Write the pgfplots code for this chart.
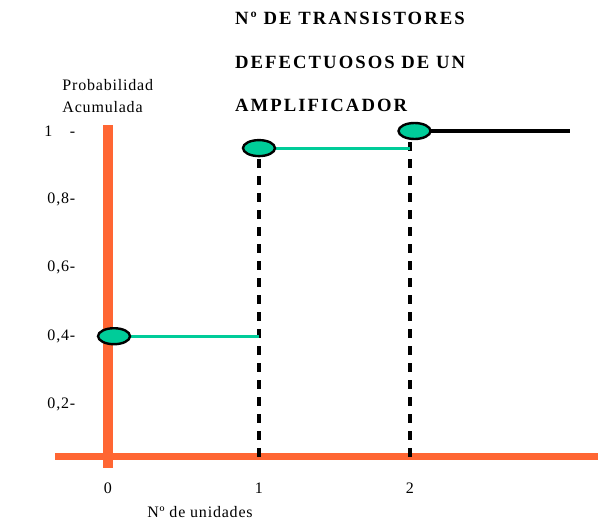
\documentclass[border=0pt]{standalone}
\usepackage{fontspec}
\setmainfont{Liberation Serif}
\newfontfamily\spaced[LetterSpace=5]{Liberation Serif}
\newfontfamily\titlefont[LetterSpace=11]{Liberation Serif}
\usepackage{pgfplots}
\pgfplotsset{compat=1.18}
\definecolor{naranja}{HTML}{FF6633}
\definecolor{verde}{HTML}{00CC99}

\begin{document}
\begin{tikzpicture}
\useasboundingbox (-60.6pt,-39.75pt) rectangle (395.4pt,354.75pt);
\begin{axis}[
    at={(0,0)}, anchor=south west,
    width=387.9pt, height=282.15pt, scale only axis,
    xmin=-0.18, xmax=3.245, ymin=0, ymax=1.1,
    axis line style={draw=none},
    tick style={draw=none},
    clip=false,
    xtick={0,1,2}, xticklabels={0,1,2},
    ytick={0.2,0.4,0.6,0.8,1},
    yticklabels={{0,2-},{0,4-},{0,6-},{0,8-},{1\hspace{1.1em}-}},
    ticklabel style={font=\spaced\fontsize{12}{14}\selectfont},
    yticklabel style={inner sep=0pt, xshift=-4pt},
    xticklabel style={inner sep=0pt, yshift=-7pt},
    xlabel={Nº de unidades},
    xlabel style={at={(rel axis cs:0.2305,-0.1037)}, anchor=center,
        font=\spaced\fontsize{12}{14}\selectfont},
    ylabel={Probabilidad\\Acumulada},
    ylabel style={rotate=-90, at={(rel axis cs:-0.036,1.047)}, anchor=north west,
        align=left, inner sep=0pt, font=\spaced\fontsize{12}{16.5}\selectfont},
    title={Nº DE TRANSISTORES\\DEFECTUOSOS DE UN\\AMPLIFICADOR},
    title style={at={(rel axis cs:0.298,1.2041)}, anchor=north west, align=left,
        inner sep=0pt, font=\titlefont\bfseries\fontsize{14}{32.6}\selectfont},
]
% ejes naranjas
\addplot[naranja, line width=7.5pt] coordinates {(0,0.015) (0,1.018)};
\addplot[naranja, line width=5.25pt] coordinates {(-0.351,0.047) (3.245,0.047)};
% lineas discontinuas
\addplot[black, line width=3pt, dash pattern=on 6.75pt off 6pt] coordinates {(1,0.047) (1,0.95)};
\addplot[black, line width=3pt, dash pattern=on 6.75pt off 6pt] coordinates {(2,0.047) (2,1)};
% escalones
\addplot[verde, line width=2.25pt] coordinates {(0,0.4) (1,0.4)};
\addplot[verde, line width=2.25pt] coordinates {(1,0.95) (2,0.95)};
\addplot[black, line width=2.6pt] coordinates {(2,1) (3.06,1)};
% puntos
\addplot[only marks, mark=*, mark size=6pt,
    mark options={xscale=2, fill=verde, draw=black, line width=1.8pt}]
    coordinates {(0.04,0.4) (1,0.95) (2.03,1)};
\end{axis}
\end{tikzpicture}
\end{document}
